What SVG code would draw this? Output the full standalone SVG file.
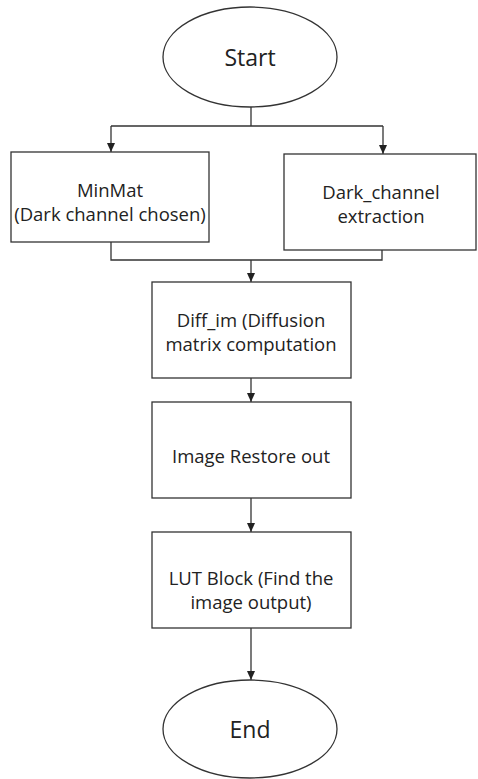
<svg xmlns="http://www.w3.org/2000/svg" width="478" height="779" viewBox="0 0 478 779">
<defs>
<marker id="ah" markerWidth="10" markerHeight="10" refX="9" refY="5" orient="auto" markerUnits="userSpaceOnUse" viewBox="0 0 10 10">
<path d="M0,1 L9,5 L0,9 Z" fill="#222"/>
</marker>
<style>
.n{fill:#fff;stroke:#333;stroke-width:1.3}
.c{fill:none;stroke:#333;stroke-width:1.3}
.t{font-family:"Open Sans","Liberation Sans",sans-serif;font-size:18.5px;fill:#222;text-anchor:middle}
.b{font-size:23px}
</style>
</defs>
<rect width="478" height="779" fill="#fff"/>
<g id="connectors">
<path class="c" d="M251,107 V126 M111,126 H383"/>
<path class="c" d="M111,126 V152" marker-end="url(#ah)"/>
<path class="c" d="M383,126 V154" marker-end="url(#ah)"/>
<path class="c" d="M111,242 V260 H382 V250"/>
<path class="c" d="M251,260 V282" marker-end="url(#ah)"/>
<path class="c" d="M251,378 V402" marker-end="url(#ah)"/>
<path class="c" d="M251,498 V532" marker-end="url(#ah)"/>
<path class="c" d="M251,628 V680" marker-end="url(#ah)"/>
</g>
<g id="start">
<ellipse class="n" cx="250" cy="57" rx="87" ry="50"/>
<text class="t b" x="250" y="66">Start</text>
</g>
<g id="minmat">
<rect class="n" x="11" y="152" width="198" height="90"/>
<text class="t" x="110" y="197">MinMat</text>
<text class="t" x="110" y="221">(Dark channel chosen)</text>
</g>
<g id="dark_channel">
<rect class="n" x="284" y="154" width="192" height="96"/>
<text class="t" x="381" y="199">Dark_channel</text>
<text class="t" x="381" y="223">extraction</text>
</g>
<g id="diff_im">
<rect class="n" x="152" y="282" width="199" height="96"/>
<text class="t" x="251" y="327">Diff_im (Diffusion</text>
<text class="t" x="251" y="351">matrix computation</text>
</g>
<g id="restore">
<rect class="n" x="152" y="402" width="199" height="96"/>
<text class="t" x="251" y="463">Image Restore out</text>
</g>
<g id="lut">
<rect class="n" x="152" y="532" width="199" height="96"/>
<text class="t" x="251" y="585">LUT Block (Find the</text>
<text class="t" x="251" y="609">image output)</text>
</g>
<g id="end">
<ellipse class="n" cx="250" cy="729" rx="87" ry="49"/>
<text class="t b" x="250" y="738">End</text>
</g>
</svg>
